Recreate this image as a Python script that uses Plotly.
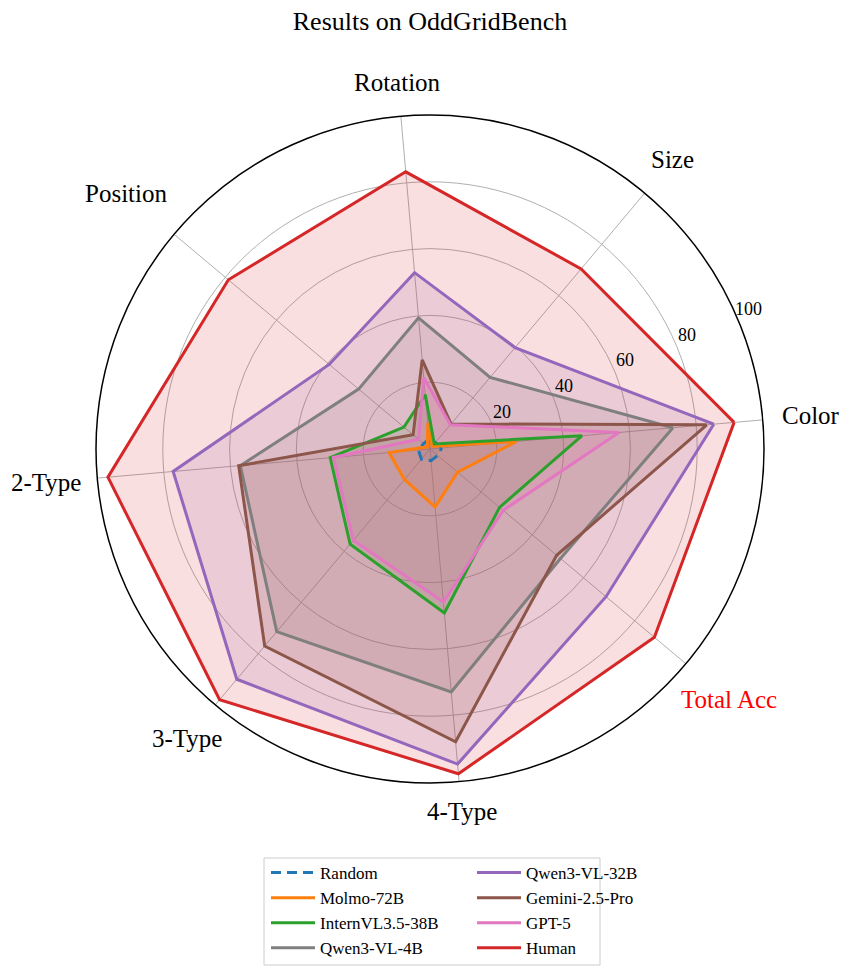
import math
import plotly.graph_objects as go

categories = ["Color", "Size", "Rotation", "Position", "2-Type", "3-Type", "4-Type", "Total Acc"]
label_colors = ["black", "black", "black", "black", "black", "black", "black", "#ff0000"]
radial_ticks = [20, 40, 60, 80, 100]

series_names = ["Random", "Molmo-72B", "InternVL3.5-38B", "Qwen3-VL-4B",
                "Qwen3-VL-32B", "Gemini-2.5-Pro", "GPT-5", "Human"]
random_vals = [3.5, 2.5, 3.0, 2.5, 3.5, 4.0, 3.5, 3.0]
molmo_vals = [26.0, 1.0, 7.8, 1.0, 12.3, 11.9, 17.4, 10.8]
intern_vals = [45.7, 2.0, 16.3, 10.2, 30.0, 37.2, 49.3, 27.2]
qwen4b_vals = [73.0, 28.0, 39.4, 27.9, 57.0, 71.4, 73.0, 51.0]
qwen32b_vals = [85.3, 39.6, 53.0, 39.4, 77.2, 90.0, 94.7, 68.8]
gemini_vals = [83.2, 9.8, 26.8, 6.6, 57.5, 77.0, 88.0, 49.5]
gpt5_vals = [56.8, 9.5, 21.4, 4.5, 29.0, 35.7, 46.0, 28.6]
human_vals = [91.4, 70.4, 83.3, 78.8, 96.8, 98.0, 97.6, 87.7]

all_vals = [random_vals, molmo_vals, intern_vals, qwen4b_vals,
            qwen32b_vals, gemini_vals, gpt5_vals, human_vals]
colors = ["#1f77b4", "#ff7f0e", "#2ca02c", "#7f7f7f",
          "#9467bd", "#8c564b", "#e377c2", "#d62728"]
legends = ["legend"] * 4 + ["legend2"] * 4

W, H = 850, 972
FONT = "Liberation Serif"
cx, cy, R = 430, 449, 334          # polar centre / radius in px
ROT = 5                            # angle of first category (deg)
STEP = 360 / len(categories)
label_dist = [382, 378, 368, 397, 385, 378, 364, 390]   # px from centre for axis labels
RAD_ANGLE = 22.5


def rgba(hx, a):
    hx = hx.lstrip("#")
    r, g, b = int(hx[0:2], 16), int(hx[2:4], 16), int(hx[4:6], 16)
    return f"rgba({r},{g},{b},{a})"


def to_paper(dist, ang_deg):
    a = math.radians(ang_deg)
    return (cx + dist * math.cos(a)) / W, 1 - (cy - dist * math.sin(a)) / H


fig = go.Figure()
# fills first
for name, vals, col in zip(series_names, all_vals, colors):
    fig.add_trace(go.Scatterpolar(
        r=vals + vals[:1], theta=categories + categories[:1],
        mode="lines", line=dict(width=0, color=col),
        fill="toself", fillcolor=rgba(col, 0.15),
        showlegend=False, hoverinfo="skip",
    ))
# outlines on top
for name, vals, col, lg in zip(series_names, all_vals, colors, legends):
    fig.add_trace(go.Scatterpolar(
        r=vals + vals[:1], theta=categories + categories[:1],
        mode="lines", name=name, legend=lg,
        line=dict(color=col, width=3, dash="10px,6px" if name == "Random" else "solid"),
    ))

annotations = []
for i, (cat, lc) in enumerate(zip(categories, label_colors)):
    px, py = to_paper(label_dist[i], ROT + i * STEP)
    annotations.append(dict(text=cat, x=px, y=py, xref="paper", yref="paper",
                            xanchor="center", yanchor="middle", showarrow=False,
                            font=dict(size=25, family=FONT, color=lc)))
# radial tick labels (horizontal, just outside each ring along 22.5 deg)
for t in radial_ticks:
    d = t / 100 * R + 14
    a = math.radians(RAD_ANGLE)
    x = cx + d * math.cos(a) - 7 * math.sin(a)
    y = cy - d * math.sin(a) - 7 * math.cos(a)
    annotations.append(dict(text=str(t), x=x / W, y=1 - y / H, xref="paper", yref="paper",
                            xanchor="center", yanchor="middle", showarrow=False,
                            font=dict(size=18, family=FONT, color="black")))

fig.update_layout(
    width=W, height=H,
    margin=dict(l=0, r=0, t=0, b=0),
    paper_bgcolor="white",
    font=dict(family=FONT, color="black"),
    title=dict(text="Results on OddGridBench", x=cx / W, xanchor="center",
               y=1 - 21 / H, yanchor="middle", font=dict(size=26, family=FONT)),
    polar=dict(
        domain=dict(x=[(cx - R) / W, (cx + R) / W], y=[1 - (cy + R) / H, 1 - (cy - R) / H]),
        bgcolor="rgba(0,0,0,0)",
        angularaxis=dict(
            type="category",
            categoryarray=categories,
            rotation=ROT,
            direction="counterclockwise",
            showline=True, linecolor="black", linewidth=1.5,
            gridcolor="#b0b0b0", gridwidth=1,
            ticks="", showticklabels=False,
        ),
        radialaxis=dict(
            range=[0, 100],
            tickvals=radial_ticks,
            showline=False, ticks="", showticklabels=False,
            gridcolor="#b0b0b0", gridwidth=1,
        ),
    ),
    legend=dict(x=266 / W, xanchor="left", y=1 - 855 / H, yanchor="top",
                font=dict(size=17, family=FONT), bgcolor="rgba(0,0,0,0)",
                itemwidth=44, tracegroupgap=0),
    legend2=dict(x=472 / W, xanchor="left", y=1 - 855 / H, yanchor="top",
                 font=dict(size=17, family=FONT), bgcolor="rgba(0,0,0,0)",
                 itemwidth=44, tracegroupgap=0),
    shapes=[dict(type="rect", xref="paper", yref="paper",
                 x0=264 / W, x1=600 / W, y0=1 - 965 / H, y1=1 - 858 / H,
                 line=dict(color="#cccccc", width=1), fillcolor="rgba(0,0,0,0)")],
    annotations=annotations,
)

fig.write_html("out.html")
